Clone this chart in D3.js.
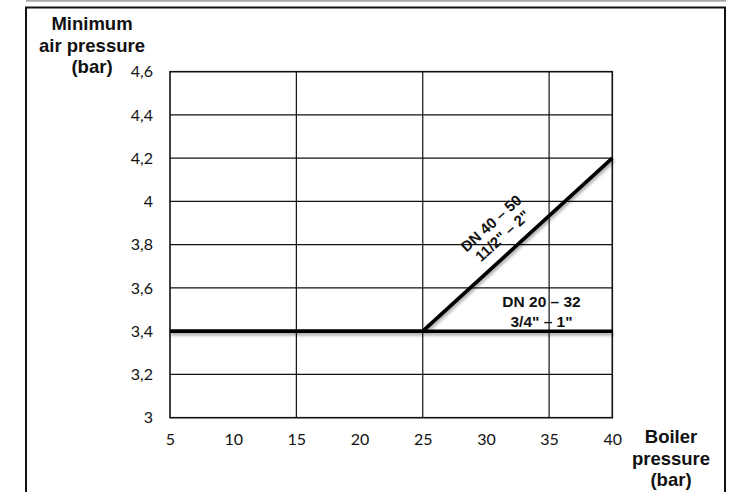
<!DOCTYPE html>
<html>
<head>
<meta charset="utf-8">
<script src="https://cdn.jsdelivr.net/npm/d3@7"></script>
<style>
  html, body { margin: 0; padding: 0; background: #fff; }
  svg { display: block; }
</style>
</head>
<body>
<svg id="chart" width="742" height="492"></svg>
<script>
// ---- Data ----
const xTickValues = [5, 10, 15, 20, 25, 30, 35, 40];
const xTickLabels = ["5", "10", "15", "20", "25", "30", "35", "40"];
const yTickValues = [3, 3.2, 3.4, 3.6, 3.8, 4, 4.2, 4.4, 4.6];
const yTickLabels = ["3", "3,2", "3,4", "3,6", "3,8", "4", "4,2", "4,4", "4,6"];
const xGridValues = [15, 25, 35];

// DN 20 – 32 (3/4" – 1")
const smallBoilerPressure = [5, 25, 40];
const smallAirPressure = [3.4, 3.4, 3.4];
// DN 40 – 50 (11/2" – 2")
const largeBoilerPressure = [5, 25, 40];
const largeAirPressure = [3.4, 3.4, 4.2];

const yTitleLines = ["Minimum", "air pressure", "(bar)"];
const xTitleLines = ["Boiler", "pressure", "(bar)"];
const smallLabelLines = ["DN 20 \u2013 32", "3/4\" \u2013 1\""];
const largeLabelLines = ["DN 40 \u2013 50", "11/2\" \u2013 2\""];

// ---- Layout ----
const svg = d3.select("#chart");
const x = d3.scaleLinear().domain([5, 40]).range([170, 612.3]);
const y = d3.scaleLinear().domain([3, 4.6]).range([417.7, 71.7]);

const defs = svg.append("defs");
const f = defs.append("filter").attr("id", "shadow")
  .attr("x", "-10%").attr("y", "-50%").attr("width", "120%").attr("height", "200%");
f.append("feDropShadow").attr("dx", 1).attr("dy", 2.5).attr("stdDeviation", 1.6)
  .attr("flood-color", "#000").attr("flood-opacity", 0.35);

// outer frame
svg.append("line").attr("x1", 26).attr("x2", 726).attr("y1", 0.8).attr("y2", 0.8)
  .attr("stroke", "#a8a8a8").attr("stroke-width", 2);
svg.append("path")
  .attr("d", "M26,500 L26,7.5 L725,7.5 L725,500")
  .attr("fill", "none").attr("stroke", "#111").attr("stroke-width", 2);

// grid
const grid = svg.append("g").attr("stroke", "#111").attr("stroke-width", 1.2);
grid.selectAll("line.h").data(yTickValues.slice(1, -1)).join("line")
  .attr("x1", x(5)).attr("x2", x(40))
  .attr("y1", d => y(d)).attr("y2", d => y(d));
grid.selectAll("line.v").data(xGridValues).join("line")
  .attr("x1", d => x(d)).attr("x2", d => x(d))
  .attr("y1", y(3)).attr("y2", y(4.6));
svg.append("rect")
  .attr("x", x(5)).attr("y", y(4.6))
  .attr("width", x(40) - x(5)).attr("height", y(3) - y(4.6))
  .attr("fill", "none").attr("stroke", "#111").attr("stroke-width", 1.6);

// axes
const tickFont = "Lato, 'Open Sans', sans-serif";
const yAxis = d3.axisLeft(y).tickValues(yTickValues)
  .tickFormat((d, i) => yTickLabels[i]).tickSize(0).tickPadding(17);
const gy = svg.append("g").attr("transform", `translate(${x(5)},0)`).call(yAxis);
gy.select(".domain").remove();
gy.selectAll("text").attr("font-family", tickFont).attr("font-size", 16).attr("fill", "#111");

const xAxis = d3.axisBottom(x).tickValues(xTickValues)
  .tickFormat((d, i) => xTickLabels[i]).tickSize(0).tickPadding(16);
const gx = svg.append("g").attr("transform", `translate(0,${y(3)})`).call(xAxis);
gx.select(".domain").remove();
gx.selectAll("text").attr("font-family", tickFont).attr("font-size", 16).attr("fill", "#111");

// lines
const line = d3.line().x(d => x(d[0])).y(d => y(d[1]));
const series = [
  d3.zip(largeBoilerPressure, largeAirPressure),
  d3.zip(smallBoilerPressure, smallAirPressure)
];
svg.append("g").attr("filter", "url(#shadow)")
  .selectAll("path").data(series).join("path")
  .attr("d", line)
  .attr("fill", "none").attr("stroke", "#000").attr("stroke-width", 3.6)
  .attr("stroke-linejoin", "miter");

// titles
const titleFont = "'Liberation Sans', Arial, sans-serif";
svg.append("text").attr("font-family", titleFont).attr("font-weight", "bold")
  .attr("font-size", 18.5).attr("text-anchor", "middle").attr("fill", "#111")
  .selectAll("tspan").data(yTitleLines).join("tspan")
  .attr("x", 92).attr("y", (d, i) => 30 + i * 21.5).text(d => d);
svg.append("text").attr("font-family", titleFont).attr("font-weight", "bold")
  .attr("font-size", 18.5).attr("text-anchor", "middle").attr("fill", "#111")
  .selectAll("tspan").data(xTitleLines).join("tspan")
  .attr("x", 671).attr("y", (d, i) => 443 + i * 21.5).text(d => d);

// series labels
svg.append("text").attr("font-family", titleFont).attr("font-weight", "bold")
  .attr("font-size", 15.5).attr("text-anchor", "middle").attr("fill", "#111")
  .selectAll("tspan").data(smallLabelLines).join("tspan")
  .attr("x", x(34.4)).attr("y", (d, i) => y(3.4) - 24.5 + i * 20).text(d => d);

const ax = x(32.2);
const ay = y(3.4) + (y(4.2) - y(3.4)) * ((32.2 - 25) / (40 - 25));
const angle = Math.atan2(y(4.2) - y(3.4), x(40) - x(25)) * 180 / Math.PI;
svg.append("text").attr("font-family", titleFont).attr("font-weight", "bold")
  .attr("font-size", 15).attr("text-anchor", "middle").attr("fill", "#111")
  .attr("transform", `translate(${ax},${ay}) rotate(${angle})`)
  .selectAll("tspan").data(largeLabelLines).join("tspan")
  .attr("x", 0).attr("y", (d, i) => -28.5 + i * 17).text(d => d);
</script>
</body>
</html>
